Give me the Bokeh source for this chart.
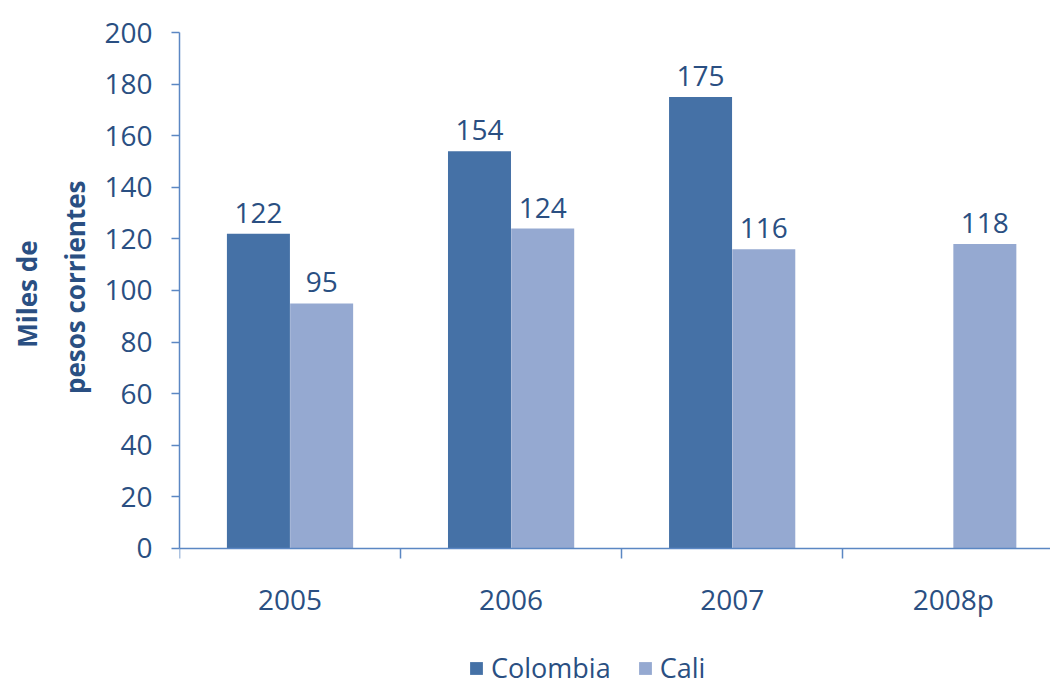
from bokeh.plotting import figure
from bokeh.models import (Range1d, FixedTicker, SingleIntervalTicker, ColumnDataSource,
                          Legend, LegendItem, Title)
from bokeh.embed import file_html
from bokeh.resources import INLINE
from bokeh.core.properties import value

categories = ["2005", "2006", "2007", "2008p"]
colombia = [122, 154, 175, None]
cali = [95, 124, 116, 118]
y_title = ["Miles de", "pesos corrientes"]

FONT = "Open Sans"
TXT = "#2A4F82"
AXC = "#5B87C3"
C1 = "#4571A6"
C2 = "#95A9D1"
FS = "28px"

# 516 px for 0..200; extra room below 0 for tick labels and legend
p = figure(frame_width=871, frame_height=654, output_backend="svg", toolbar_location=None,
           x_range=Range1d(0, 3.94), y_range=Range1d(-53.5, 200),
           min_border_left=179, min_border_top=32, min_border_right=0,
           min_border_bottom=0)
p.outline_line_color = None
p.xgrid.visible = False
p.ygrid.visible = False

centers = [i + 0.5 for i in range(len(categories))]
off = 0.143
bw = 0.285

c_idx = [i for i, v in enumerate(colombia) if v is not None]
src1 = ColumnDataSource(dict(x=[centers[i] - off for i in c_idx],
                             top=[colombia[i] for i in c_idx],
                             lbl=[str(colombia[i]) for i in c_idx]))
src2 = ColumnDataSource(dict(x=[c + off for c in centers], top=cali,
                             lbl=[str(v) for v in cali]))

r1 = p.vbar(x="x", top="top", bottom=0, width=bw, source=src1, fill_color=C1, line_color=None)
r2 = p.vbar(x="x", top="top", bottom=0, width=bw, source=src2, fill_color=C2, line_color=None)

for src in (src1, src2):
    p.text(x="x", y="top", text="lbl", source=src, text_align="center",
           text_baseline="alphabetic", y_offset=-21, text_font=value(FONT),
           text_font_size=FS, text_color=TXT)

# x axis
xa = p.xaxis[0]
xa.fixed_location = 0
xa.ticker = FixedTicker(ticks=centers, minor_ticks=[0, 1, 2, 3])
xa.major_label_overrides = {c: cat for c, cat in zip(centers, categories)}
xa.major_tick_out = 0
xa.major_tick_in = 0
xa.minor_tick_out = 10
xa.minor_tick_in = 0
xa.minor_tick_line_color = AXC
xa.axis_line_color = AXC
xa.axis_line_width = 1.5
xa.minor_tick_line_width = 1.5
xa.major_label_standoff = 22
xa.major_label_text_font = FONT
xa.major_label_text_font_size = FS
xa.major_label_text_color = TXT

# y axis
ya = p.yaxis[0]
ya.bounds = (0, 200)
ya.ticker = SingleIntervalTicker(interval=20)
ya.minor_tick_line_color = None
ya.major_tick_out = 8
ya.major_tick_in = 0
ya.major_tick_line_color = AXC
ya.major_tick_line_width = 1.5
ya.axis_line_color = AXC
ya.axis_line_width = 1.5
ya.major_label_standoff = 19
ya.major_label_text_font = FONT
ya.major_label_text_font_size = FS
ya.major_label_text_color = TXT

# y-axis title: two lines, each centred on the 0..200 span
for txt, offs, so in ((y_title[1], 148, 18), (y_title[0], 208, 2)):
    t = Title(text=txt, align="right", offset=offs, standoff=so,
              text_font=FONT, text_font_size="26px", text_font_style="bold",
              text_color=TXT)
    p.add_layout(t, "left")

legend = Legend(items=[LegendItem(label="Colombia", renderers=[r1]),
                       LegendItem(label="Cali", renderers=[r2])],
                orientation="horizontal", location=(289, 0),
                label_text_font=FONT, label_text_font_size="27px",
                label_text_color=TXT, glyph_width=16, glyph_height=16,
                spacing=26, label_standoff=7, border_line_color=None,
                background_fill_alpha=0, margin=0, padding=0)
p.add_layout(legend, "center")

open("out.html", "w").write(file_html(p, INLINE))
